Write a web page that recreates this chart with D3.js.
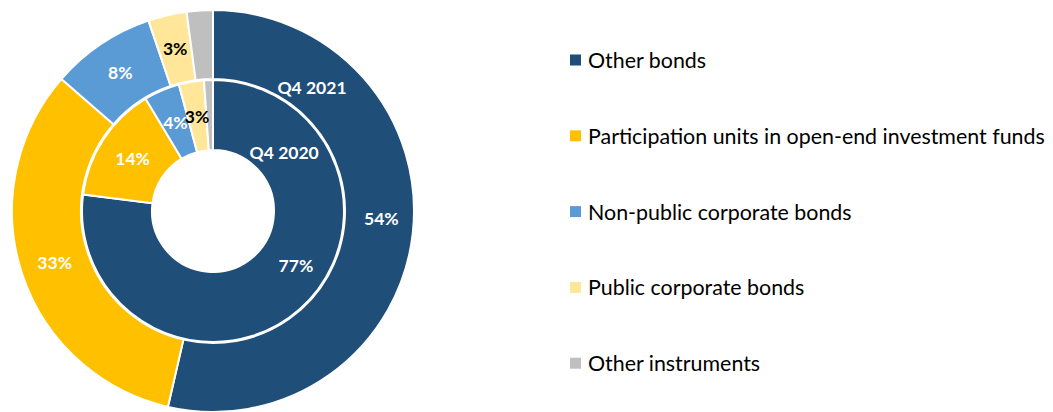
<!DOCTYPE html>
<html><head><meta charset="utf-8">
<script src="https://cdn.jsdelivr.net/npm/d3@7"></script>
<style>
html,body{margin:0;padding:0;background:#fff;}
svg{display:block;font-family:Lato,"Open Sans",sans-serif;}
</style></head>
<body>
<svg id="chart" width="1053" height="412"></svg>
<script>
const categories = ["Other bonds","Participation units in open-end investment funds","Non-public corporate bonds","Public corporate bonds","Other instruments"];
const valuesQ42021 = [53.6, 32.8, 8.4, 3.1, 2.1];
const valuesQ42020 = [77.0, 14.4, 4.4, 3.1, 1.1];
const labelsQ42021 = ["54%","33%","8%","3%",""];
const labelsQ42020 = ["77%","14%","4%","3%",""];
const seriesNames = ["Q4 2021","Q4 2020"];
const colors = ["#1F4E79","#FFC000","#5B9BD5","#FFE699","#BFBFBF"];
const labelColors = ["#fff","#fff","#fff","#000","#000"];

const svg = d3.select("#chart");
const cx = 213, cy = 211;
const rings = [
  {values: valuesQ42021, labels: labelsQ42021, r0: 132, r1: 201, name: seriesNames[0], nameAngle: 38.8, nameR: 158, shift0: -3.8, shiftR0: 2},
  {values: valuesQ42020, labels: labelsQ42020, r0: 61, r1: 131, name: seriesNames[1], nameAngle: 50.7, nameR: 92, shift0: -15.5, shiftR0: 3}
];
const pie = d3.pie().sort(null).value(d => d);
const g = svg.append("g").attr("transform", `translate(${cx},${cy})`);

rings.forEach(ring => {
  const arc = d3.arc().innerRadius(ring.r0).outerRadius(ring.r1);
  const arcs = pie(ring.values);
  const rg = g.append("g");
  rg.selectAll("path").data(arcs).join("path")
    .attr("d", arc)
    .attr("fill", (d,i) => colors[i])
    .attr("stroke", "#fff").attr("stroke-width", 2).attr("stroke-linejoin","round");
  ring.arcs = arcs; ring.arc = arc;
});

const labelSize = 17.5;
rings.forEach(ring => {
  const rMid = (ring.r0 + ring.r1) / 2;
  ring.arcs.forEach((d,i) => {
    if (!ring.labels[i]) return;
    let a = (d.startAngle + d.endAngle) / 2;
    let r = rMid;
    if (i === 0) { a += ring.shift0 * Math.PI/180; r += ring.shiftR0; }
    g.append("text")
      .attr("x", r * Math.sin(a)).attr("y", -r * Math.cos(a))
      .attr("text-anchor","middle").attr("dominant-baseline","central")
      .attr("font-size", labelSize).attr("font-weight", 700)
      .attr("fill", labelColors[i]).text(ring.labels[i]);
  });
  const na = ring.nameAngle * Math.PI/180;
  g.append("text")
    .attr("x", ring.nameR * Math.sin(na)).attr("y", -ring.nameR * Math.cos(na))
    .attr("text-anchor","middle").attr("dominant-baseline","central")
    .attr("font-size", labelSize).attr("font-weight", 700).attr("fill","#fff")
    .text(ring.name);
});

// legend
const legend = svg.append("g").attr("transform","translate(570,60)");
const rowH = 75.8;
const items = legend.selectAll("g").data(categories).join("g")
  .attr("transform",(d,i)=>`translate(0,${i*rowH})`);
items.append("rect").attr("x",0).attr("y",-5.5).attr("width",11).attr("height",11)
  .attr("fill",(d,i)=>colors[i]);
items.append("text").attr("x",18).attr("y",0).attr("dominant-baseline","central")
  .attr("font-size",21.4).attr("fill","#000").text(d=>d);
</script>
</body></html>
